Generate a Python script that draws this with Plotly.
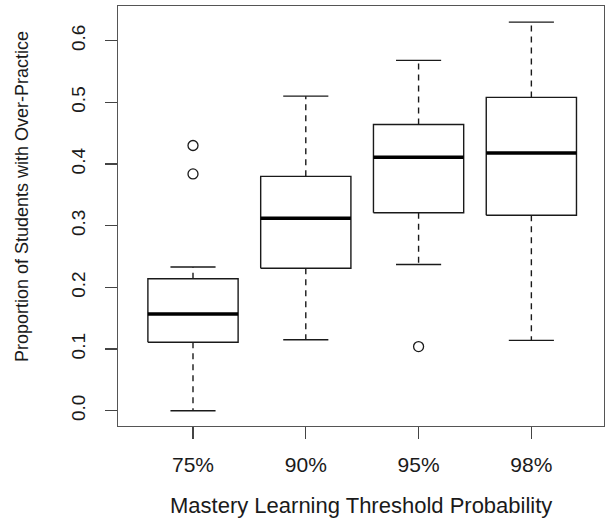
import plotly.graph_objects as go

# ---- data ----
categories = ["75%", "90%", "95%", "98%"]
lower_whisker = [0.000, 0.115, 0.237, 0.114]
q1 = [0.111, 0.231, 0.321, 0.317]
median = [0.157, 0.312, 0.411, 0.418]
q3 = [0.214, 0.380, 0.464, 0.508]
upper_whisker = [0.233, 0.510, 0.568, 0.630]
outlier_cat = ["75%", "75%", "95%"]
outlier_val = [0.384, 0.430, 0.104]

y_ticks = [0.0, 0.1, 0.2, 0.3, 0.4, 0.5, 0.6]
y_tick_labels = ["0.0", "0.1", "0.2", "0.3", "0.4", "0.5", "0.6"]

x_title = "Mastery Learning Threshold Probability"
y_title = "Proportion of Students with Over-Practice"

# ---- geometry helpers (data space) ----
BOX_HALF = 0.4
CAP_HALF = 0.2
pos = {c: i + 1 for i, c in enumerate(categories)}

box_x, box_y = [], []
med_x, med_y = [], []
wh_x, wh_y = [], []
cap_x, cap_y = [], []
for c, lo, a, m, b, hi in zip(categories, lower_whisker, q1, median, q3, upper_whisker):
    p = pos[c]
    box_x += [p - BOX_HALF, p + BOX_HALF, p + BOX_HALF, p - BOX_HALF, p - BOX_HALF, None]
    box_y += [a, a, b, b, a, None]
    med_x += [p - BOX_HALF, p + BOX_HALF, None]
    med_y += [m, m, None]
    wh_x += [p, p, None, p, p, None]
    wh_y += [b, hi, None, a, lo, None]
    cap_x += [p - CAP_HALF, p + CAP_HALF, None, p - CAP_HALF, p + CAP_HALF, None]
    cap_y += [hi, hi, None, lo, lo, None]

LINE = "#1a1a1a"
fig = go.Figure()
fig.add_trace(go.Scatter(x=wh_x, y=wh_y, mode="lines",
                         line=dict(color=LINE, width=1.4, dash="6px,5px")))
fig.add_trace(go.Scatter(x=cap_x, y=cap_y, mode="lines",
                         line=dict(color=LINE, width=1.4)))
fig.add_trace(go.Scatter(x=box_x, y=box_y, mode="lines",
                         line=dict(color=LINE, width=1.4)))
fig.add_trace(go.Scatter(x=med_x, y=med_y, mode="lines",
                         line=dict(color="#000000", width=3.5)))
fig.add_trace(go.Scatter(x=[pos[c] for c in outlier_cat], y=outlier_val, mode="markers",
                         marker=dict(symbol="circle-open", size=10, color=LINE,
                                     line=dict(color=LINE, width=1.3))))

FONT = "Liberation Sans, Arial, sans-serif"
fig.update_layout(
    width=605, height=527,
    margin=dict(l=118, r=1, t=6, b=101, autoexpand=False),
    paper_bgcolor="white", plot_bgcolor="white",
    showlegend=False, hovermode=False,
    font=dict(family=FONT, color="#1a1a1a"),
    xaxis=dict(range=[0.335, 4.644], tickvals=[pos[c] for c in categories],
               ticktext=categories, showgrid=False, zeroline=False, automargin=False,
               showline=True, mirror=True, linecolor="#555", linewidth=1.4,
               ticks="outside", ticklen=12, tickwidth=1.3, tickcolor="#444",
               ticklabelstandoff=7, tickfont=dict(size=21, family=FONT)),
    yaxis=dict(range=[-0.0248, 0.6562], tickvals=y_ticks, ticktext=y_tick_labels,
               showgrid=False, zeroline=False, automargin=False,
               showline=True, mirror=True, linecolor="#555", linewidth=1.4,
               ticks="outside", ticklen=12, tickwidth=1.3, tickcolor="#444",
               tickangle=-90, ticklabelstandoff=12, tickfont=dict(size=19, family=FONT)),
    annotations=[
        dict(text=x_title, xref="paper", yref="paper", x=0.5, y=-0.189,
             xanchor="center", yanchor="middle", showarrow=False,
             font=dict(size=22, family=FONT)),
        dict(text=y_title, xref="paper", yref="paper", x=-0.198, y=0.547,
             xanchor="center", yanchor="middle", showarrow=False, textangle=-90,
             font=dict(size=18, family=FONT)),
    ],
)

fig.write_html("out.html", config={"displayModeBar": False, "staticPlot": True},
               post_script="document.body.style.margin='0px';")
